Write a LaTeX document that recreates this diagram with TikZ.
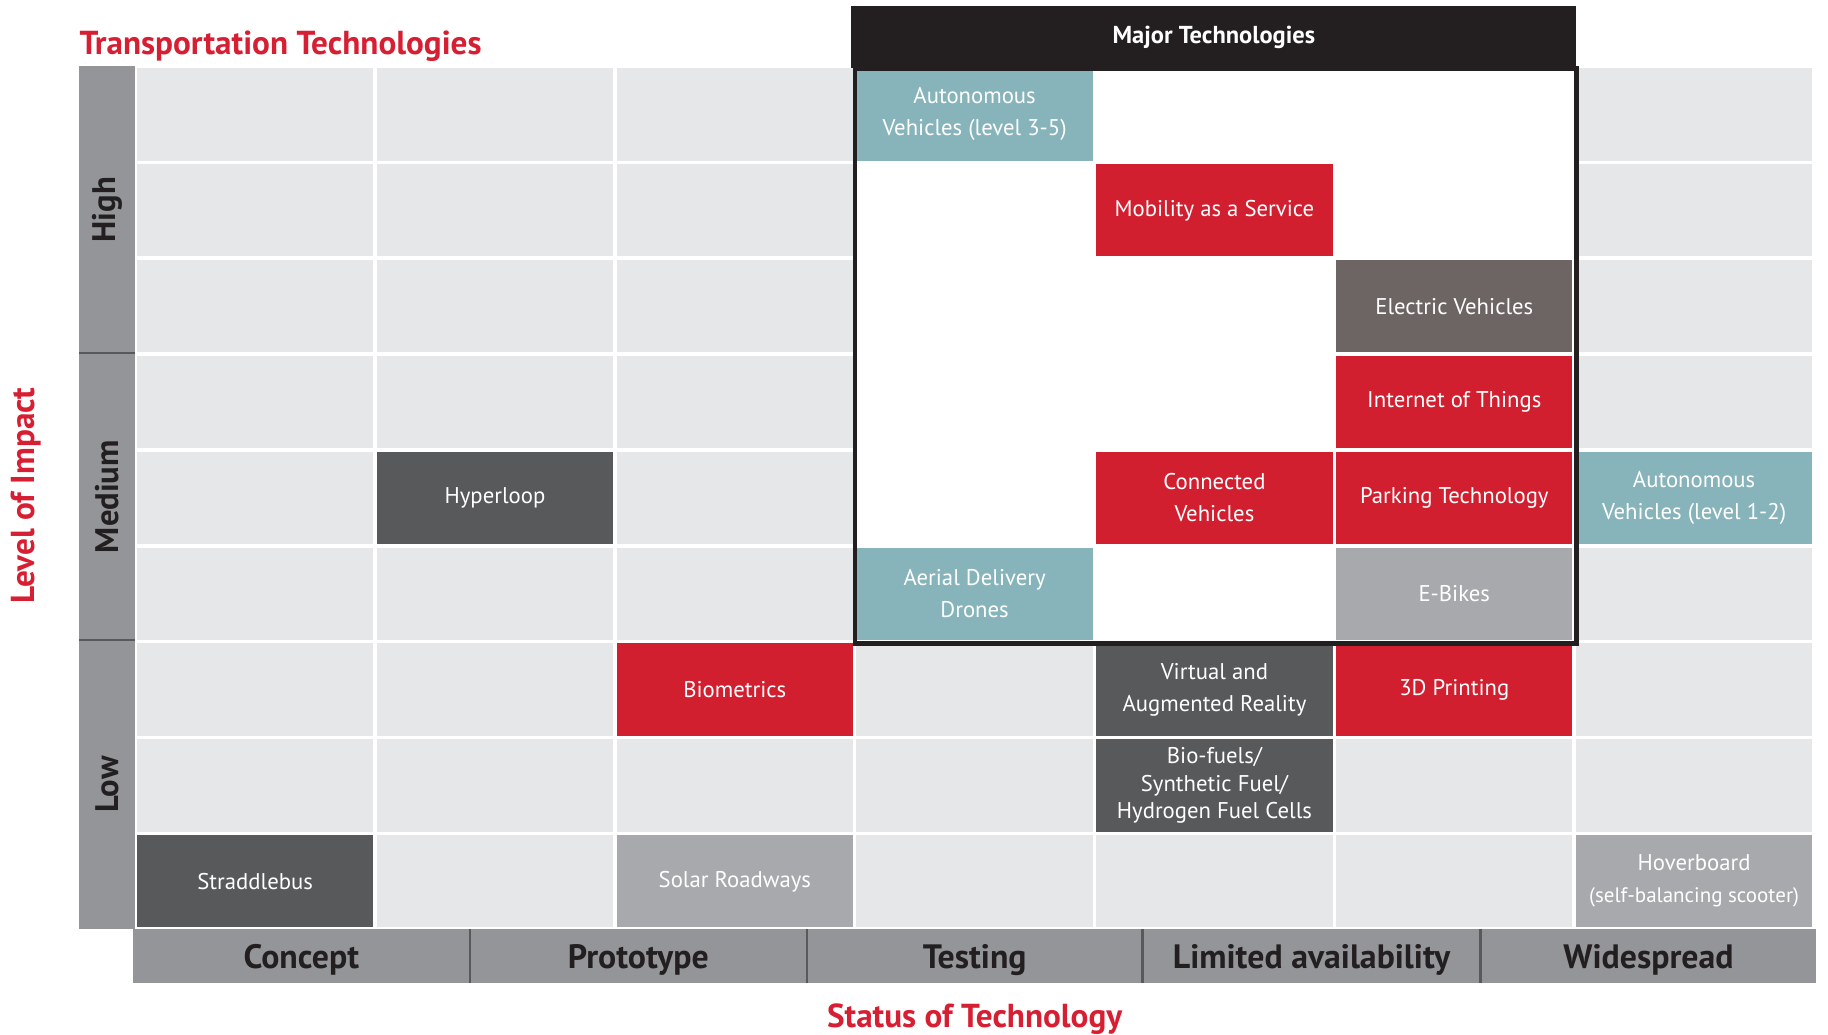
\documentclass[tikz,border=0pt]{standalone}
\usepackage{fontspec}
\setmainfont{PT Sans}
\definecolor{cellbg}{HTML}{E6E7E8}
\definecolor{bandgray}{HTML}{939598}
\definecolor{redc}{HTML}{D21F30}
\definecolor{tealc}{HTML}{86B4BA}
\definecolor{darkc}{HTML}{58595B}
\definecolor{brownc}{HTML}{6D6564}
\definecolor{lightc}{HTML}{A7A9AC}
\definecolor{titlered}{HTML}{D71F33}
\definecolor{boxblack}{HTML}{231F20}
\definecolor{textdark}{HTML}{231F20}
\newcommand\cw{205.714}
\newcommand\ch{82.222}
\newcommand\cpos[2]{({116+(#2-0.5)*\cw},{57+(#1-0.5)*\ch})}
\begin{document}
\begin{tikzpicture}[x=1pt,y=-1pt,
  bgcell/.style={fill=cellbg,draw=none,minimum width=202.7pt,minimum height=79.2pt,inner sep=0pt},
  tcell/.style={draw=none,text=white,minimum width=202.7pt,minimum height=79.2pt,inner sep=0pt,align=center,font=\fontsize{19.5}{27.5}\selectfont},
  redcell/.style={tcell,fill=redc},
  tealcell/.style={tcell,fill=tealc},
  darkcell/.style={tcell,fill=darkc},
  browncell/.style={tcell,fill=brownc},
  lightcell/.style={tcell,fill=lightc},
  axislabel/.style={text=titlered,font=\bfseries\fontsize{28.5}{32}\selectfont,inner sep=0pt},
  levellabel/.style={text=textdark,font=\bfseries\fontsize{28}{32}\selectfont,rotate=90,inner sep=0pt},
  statuslabel/.style={text=textdark,font=\bfseries\fontsize{29}{32}\selectfont,inner sep=0pt},
  divider/.style={draw=darkc,line width=2pt}]
\useasboundingbox (0,0) rectangle (1568,887);
% background cells
\foreach \r in {1,...,9}{
  \foreach \c in {1,...,7}{
    \pgfmathtruncatemacro\inside{(\c>3)&&(\c<7)&&(\r<7)}
    \ifnum\inside=0
      \node[bgcell] (bg-\r-\c) at \cpos{\r}{\c} {};
    \fi
  }
}
% left level band
\fill[bandgray] (68,57) rectangle (116,797);
\coordinate (sepA-l) at (68,303);
\coordinate (sepA-r) at (116,303);
\coordinate (sepB-l) at (68,549);
\coordinate (sepB-r) at (116,549);
\draw[divider] (sepA-l) -- (sepA-r);
\draw[divider] (sepB-l) -- (sepB-r);
\node[levellabel] (high) at (92,180) {High};
\node[levellabel] (medium) at (92,426) {Medium};
\node[levellabel] (low) at (92,673) {Low};
% bottom status band
\fill[bandgray] (114,797) rectangle (1558,843);
\foreach \x [count=\i] in {403,692,980,1270}{
  \coordinate (dv-\i-t) at (\x,797);
  \coordinate (dv-\i-b) at (\x,843);
  \draw[divider] (dv-\i-t) -- (dv-\i-b);
}
\node[statuslabel] (concept) at (258.5,823.5) {Concept};
\node[statuslabel] (prototype) at (547.5,823.5) {Prototype};
\node[statuslabel] (testing) at (836,823.5) {Testing};
\node[statuslabel] (limited) at (1125,823.5) {Limited availability};
\node[statuslabel] (widespread) at (1414,823.5) {Widespread};
% titles
\node[axislabel,anchor=west] (title) at (68,39.5) {Transportation Technologies};
\node[axislabel] (status) at (836,874) {Status of Technology};
\node[axislabel,rotate=90] (impact) at (22,425) {Level of Impact};
% technology cells
\node[tealcell] (av35) at \cpos{1}{4} {Autonomous\\Vehicles (level 3-5)};
\node[redcell] (maas) at \cpos{2}{5} {Mobility as a Service};
\node[browncell] (ev) at \cpos{3}{6} {Electric Vehicles};
\node[redcell] (iot) at \cpos{4}{6} {Internet of Things};
\node[darkcell] (hyper) at \cpos{5}{2} {Hyperloop};
\node[redcell] (conn) at \cpos{5}{5} {Connected\\Vehicles};
\node[redcell] (park) at \cpos{5}{6} {Parking Technology};
\node[tealcell] (av12) at \cpos{5}{7} {Autonomous\\Vehicles (level 1-2)};
\node[tealcell] (drones) at \cpos{6}{4} {Aerial Delivery\\Drones};
\node[lightcell] (ebikes) at \cpos{6}{6} {E-Bikes};
\node[redcell] (bio) at \cpos{7}{3} {Biometrics};
\node[darkcell] (vr) at \cpos{7}{5} {Virtual and\\Augmented Reality};
\node[redcell] (print) at \cpos{7}{6} {3D Printing};
\node[darkcell,font=\fontsize{19.5}{23.5}\selectfont] (fuel) at \cpos{8}{5} {Bio-fuels/\\Synthetic Fuel/\\Hydrogen Fuel Cells};
\node[darkcell] (straddle) at \cpos{9}{1} {Straddlebus};
\node[lightcell] (solar) at \cpos{9}{3} {Solar Roadways};
\node[lightcell] (hover) at \cpos{9}{7} {Hoverboard\\{\fontsize{18}{27.5}\selectfont(self-balancing scooter)}};
% major technologies box
\node[fill=boxblack,text=white,minimum width=622pt,minimum height=53pt,inner sep=0pt,anchor=north west,font=\bfseries\fontsize{21}{24}\selectfont] (major) at (730,5) {Major Technologies};
\node[draw=boxblack,line width=4pt,minimum width=619pt,minimum height=493pt,inner sep=0pt,anchor=north west] (majorbox) at (731.5,57) {};
\end{tikzpicture}
\end{document}
